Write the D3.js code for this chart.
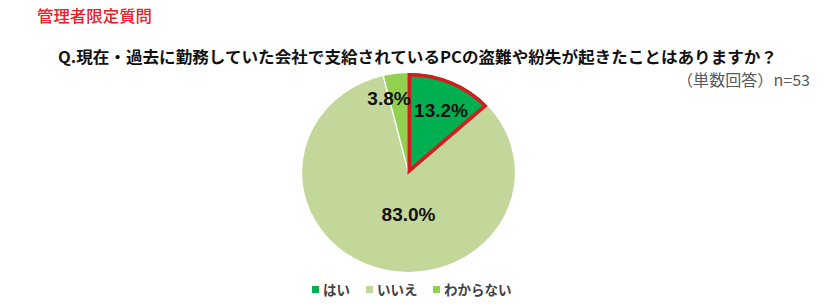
<!DOCTYPE html>
<html><head><meta charset="utf-8">
<script src="https://cdn.jsdelivr.net/npm/d3@7"></script>
<style>body{margin:0;background:#fff}svg{display:block}</style>
</head><body>
<svg id="c" width="840" height="305"></svg>
<script>
const categories = ["はい", "いいえ", "わからない"];
const values = [13.2, 83.0, 3.8];
const colors = ["#00b050", "#c4d79b", "#92d050"];
const badge = "管理者限定質問";
const question = "Q.現在・過去に勤務していた会社で支給されているPCの盗難や紛失が起きたことはありますか？";
const note = "（単数回答）n=53";

const svg = d3.select("#c");
const jp = "'Noto Sans CJK JP', sans-serif";

svg.append("text").attr("x", 37).attr("y", 22).text(badge)
  .attr("font-family", jp).attr("font-size", 16).attr("font-weight", 500).attr("fill", "#e8202a")
  .attr("textLength", 115).attr("lengthAdjust", "spacingAndGlyphs");

svg.append("text").attr("x", 58).attr("y", 63).text(question)
  .attr("font-family", jp).attr("font-size", 16).attr("font-weight", "bold").attr("fill", "#111")
  .attr("textLength", 719).attr("lengthAdjust", "spacingAndGlyphs");

svg.append("text").attr("x", 810).attr("y", 86).attr("text-anchor", "end").text(note)
  .attr("font-family", jp).attr("font-size", 15.5).attr("fill", "#595959")
  .attr("textLength", 133).attr("lengthAdjust", "spacingAndGlyphs");

const data = categories.map((c, i) => ({c, v: values[i], col: colors[i]}));
const pie = d3.pie().sort(null).value(d => d.v);
const arcs = pie(data);
const R = 100;
const arc = d3.arc().innerRadius(0).outerRadius(R);
const g = svg.append("g").attr("transform", "translate(408.5,172.5) scale(1.07,1)");

g.selectAll("path.s").data(arcs).join("path").attr("class", "s")
  .attr("d", arc).attr("fill", d => d.data.col)
  .attr("stroke", "#fff").attr("stroke-width", 1.2);

// highlighted slice
const hi = arcs[0];
const arcHi = d3.arc().innerRadius(0).outerRadius(R - 4);
const mid = (hi.startAngle + hi.endAngle) / 2;
g.append("path").attr("d", arcHi(hi))
  .attr("transform", `translate(${Math.sin(mid) * 2},${-Math.cos(mid) * 2})`)
  .attr("fill", colors[0]).attr("stroke", "#d01e1e").attr("stroke-width", 3.5).attr("stroke-linejoin", "miter");

// labels
const labelPos = [[441, 110], [408.5, 214], [389, 98]];
svg.selectAll("text.lab").data(arcs).join("text").attr("class", "lab")
  .attr("x", (d, i) => labelPos[i][0]).attr("y", (d, i) => labelPos[i][1])
  .attr("dy", "0.36em").attr("text-anchor", "middle")
  .attr("font-family", "'Liberation Sans', Arial, sans-serif").attr("font-weight", "bold")
  .attr("font-size", 19).attr("fill", "#111")
  .text(d => d.data.v.toFixed(1) + "%");

// legend
const legX = [312, 366, 433];
const lg = svg.selectAll("g.leg").data(data).join("g").attr("class", "leg")
  .attr("transform", (d, i) => `translate(${legX[i]},290)`);
lg.append("rect").attr("x", 0).attr("y", -4).attr("width", 7).attr("height", 7).attr("fill", d => d.col);
lg.append("text").attr("x", 11).attr("y", 0).attr("dy", "0.36em").text(d => d.c)
  .attr("font-family", jp).attr("font-size", 13.5).attr("font-weight", "bold").attr("fill", "#404040");
</script>
</body></html>
